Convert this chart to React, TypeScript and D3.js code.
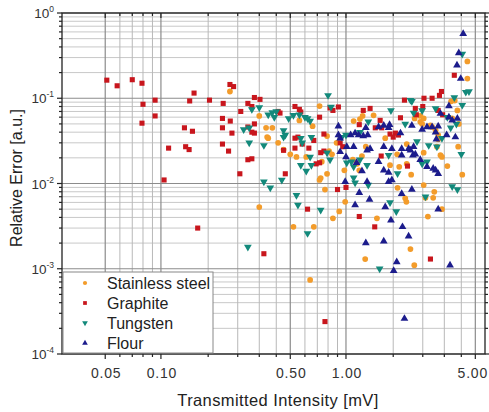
import { useEffect, useRef } from 'react';
import * as d3 from 'd3';

// [intensity mV, relative error]
const stainless: [number, number][] = [
  [0.236, 0.12], [0.34, 0.062], [0.37, 0.045], [0.375, 0.035], [0.38, 0.034], [0.40, 0.045],
  [0.43, 0.030], [0.46, 0.025], [0.50, 0.022], [0.56, 0.055], [0.54, 0.0205], [0.61, 0.0205],
  [0.66, 0.047], [0.72, 0.081], [0.74, 0.018], [0.73, 0.0116], [0.81, 0.024], [0.79, 0.013],
  [0.34, 0.0053], [0.52, 0.0031], [0.67, 0.0031], [0.64, 0.00074], [0.85, 0.0039], [0.92, 0.0047],
  [0.99, 0.0061], [1.27, 0.0013], [1.47, 0.0039], [2.23, 0.0017], [2.34, 0.0011], [2.77, 0.0041],
  [3.3, 0.005], [2.09, 0.0067], [2.12, 0.0061], [0.77, 0.0085], [1.90, 0.0089], [2.63, 0.0096],
  [2.69, 0.0068], [2.96, 0.0068], [3.0, 0.008], [0.72, 0.011], [0.79, 0.036], [0.84, 0.022],
  [1.10, 0.054], [1.19, 0.057], [1.23, 0.062], [1.09, 0.019], [0.98, 0.0143], [1.22, 0.021],
  [1.73, 0.0164], [1.94, 0.0157], [1.63, 0.034], [1.89, 0.022], [2.25, 0.0127], [2.35, 0.058],
  [2.52, 0.062], [2.63, 0.058], [2.86, 0.048], [3.15, 0.033], [3.53, 0.016], [3.75, 0.058],
  [3.7, 0.092], [3.87, 0.094], [4.04, 0.027], [4.25, 0.0127], [3.24, 0.0215], [2.13, 0.029],
  [2.63, 0.023], [4.53, 0.27], [4.53, 0.17], [4.07, 0.050], [0.89, 0.030], [1.15, 0.017],
  [1.18, 0.0143], [1.28, 0.027], [1.41, 0.063], [2.13, 0.017], [2.52, 0.053], [2.58, 0.050],
  [2.92, 0.046], [3.05, 0.042], [3.1, 0.027], [3.3, 0.0205], [4.0, 0.072], [3.15, 0.037],
];

const graphite: [number, number][] = [
  [0.051, 0.163], [0.058, 0.14], [0.070, 0.165], [0.079, 0.15], [0.093, 0.095], [0.080, 0.085],
  [0.151, 0.115], [0.143, 0.093], [0.183, 0.095], [0.217, 0.087], [0.236, 0.145], [0.247, 0.137],
  [0.32, 0.102], [0.343, 0.097], [0.079, 0.051], [0.093, 0.062], [0.134, 0.045], [0.148, 0.041],
  [0.110, 0.026], [0.136, 0.027], [0.142, 0.025], [0.104, 0.011], [0.215, 0.058], [0.215, 0.045],
  [0.237, 0.054], [0.242, 0.039], [0.215, 0.029], [0.232, 0.024], [0.267, 0.013], [0.27, 0.070],
  [0.295, 0.087], [0.295, 0.019], [0.295, 0.046], [0.158, 0.003], [0.32, 0.039], [0.31, 0.0195],
  [0.43, 0.070], [0.44, 0.067], [0.53, 0.080], [0.56, 0.074], [0.57, 0.069], [0.72, 0.060],
  [0.53, 0.034], [0.55, 0.035], [0.53, 0.026], [0.58, 0.029], [0.63, 0.026], [0.67, 0.032],
  [0.76, 0.024], [0.69, 0.017], [0.47, 0.013], [0.36, 0.0015], [0.62, 0.005], [0.77, 0.00024],
  [0.90, 0.0085], [1.0, 0.009], [1.18, 0.0041], [1.43, 0.0031], [2.86, 0.0013], [0.82, 0.077],
  [0.85, 0.072], [0.91, 0.079], [1.24, 0.072], [1.35, 0.076], [1.18, 0.049], [1.53, 0.055],
  [1.97, 0.059], [1.44, 0.045], [1.56, 0.045], [1.73, 0.038], [1.85, 0.039], [1.92, 0.037],
  [1.80, 0.035], [0.76, 0.038], [0.93, 0.030], [0.96, 0.027], [0.73, 0.023], [1.55, 0.021],
  [2.15, 0.016], [2.07, 0.095], [2.37, 0.076], [2.64, 0.10], [2.92, 0.10], [3.2, 0.108],
  [3.28, 0.12], [2.4, 0.064], [3.33, 0.064], [0.31, 0.080], [0.31, 0.040], [0.32, 0.050],
  [0.72, 0.0175], [0.46, 0.0245], [3.85, 0.186], [2.6, 0.080], [3.15, 0.072],
];

const tungsten: [number, number][] = [
  [0.31, 0.074], [0.34, 0.078], [0.28, 0.043], [0.30, 0.045], [0.30, 0.030], [0.36, 0.028],
  [0.38, 0.064], [0.40, 0.068], [0.42, 0.070], [0.41, 0.060], [0.49, 0.058], [0.52, 0.063],
  [0.56, 0.064], [0.60, 0.060], [0.62, 0.058], [0.64, 0.054], [0.46, 0.042], [0.47, 0.037],
  [0.46, 0.035], [0.57, 0.034], [0.58, 0.030], [0.65, 0.035], [0.57, 0.0164], [0.61, 0.014],
  [0.65, 0.0164], [0.36, 0.0105], [0.45, 0.011], [0.39, 0.0089], [0.54, 0.0073], [0.55, 0.0056],
  [0.295, 0.0018], [0.62, 0.0026], [0.73, 0.0049], [1.52, 0.001], [1.73, 0.006], [1.87, 0.0047],
  [1.12, 0.0102], [1.32, 0.0096], [2.69, 0.007], [3.75, 0.0092], [4.0, 0.0085], [0.80, 0.108],
  [1.0, 0.037], [0.95, 0.035], [0.79, 0.023], [1.07, 0.018], [1.10, 0.0157], [1.19, 0.019],
  [1.30, 0.0164], [1.10, 0.0117], [1.75, 0.072], [2.09, 0.050], [2.42, 0.031], [2.8, 0.028],
  [3.1, 0.027], [2.58, 0.017], [2.74, 0.018], [2.27, 0.092], [3.05, 0.076], [3.68, 0.045],
  [3.95, 0.050], [4.25, 0.083], [4.2, 0.022], [4.44, 0.118], [4.62, 0.12], [3.3, 0.034],
  [1.70, 0.0215], [0.64, 0.0205], [0.83, 0.079], [0.82, 0.019], [1.01, 0.0175], [2.23, 0.095],
  [2.32, 0.067], [2.58, 0.072], [1.32, 0.053], [1.19, 0.040], [3.53, 0.060], [3.85, 0.102],
  [4.25, 0.33], [1.9, 0.0131],
];

const flour: [number, number][] = [
  [0.99, 0.0105], [1.18, 0.0078], [1.12, 0.0056], [1.34, 0.0065], [1.30, 0.0105], [1.70, 0.0105],
  [2.0, 0.0076], [2.27, 0.0085], [1.63, 0.0053], [1.75, 0.0037], [2.02, 0.0031], [2.18, 0.0024],
  [1.28, 0.0020], [1.6, 0.0021], [1.88, 0.0012], [1.81, 0.00095], [2.07, 0.00026], [3.65, 0.0011],
  [3.15, 0.005], [0.91, 0.047], [1.06, 0.037], [1.28, 0.045], [1.24, 0.036], [1.31, 0.037],
  [1.35, 0.0255], [1.10, 0.027], [1.0, 0.0205], [1.22, 0.014], [1.5, 0.018], [1.6, 0.027],
  [1.72, 0.049], [1.70, 0.045], [1.97, 0.039], [2.0, 0.0255], [2.23, 0.0245], [2.3, 0.0215],
  [2.52, 0.019], [2.58, 0.043], [2.74, 0.046], [2.92, 0.046], [3.08, 0.033], [3.05, 0.040],
  [3.6, 0.081], [4.0, 0.058], [3.9, 0.035], [2.74, 0.0157], [3.05, 0.0143], [1.70, 0.0135],
  [4.3, 0.57], [3.98, 0.244], [4.07, 0.34], [4.17, 0.17], [3.5, 0.037], [3.15, 0.047],
  [2.27, 0.048], [2.32, 0.027], [2.37, 0.022], [2.18, 0.0255], [1.77, 0.0255], [1.6, 0.048],
  [1.5, 0.046], [1.12, 0.039], [1.17, 0.037], [1.01, 0.027], [0.91, 0.037], [0.93, 0.034],
  [1.30, 0.0245], [1.14, 0.0175], [1.6, 0.0143], [1.77, 0.011], [2.0, 0.0215], [3.15, 0.013],
  [2.96, 0.015], [3.6, 0.060], [3.75, 0.055], [3.24, 0.066], [0.93, 0.0235],
];

const xMajorTicks = [0.05, 0.1, 0.5, 1, 5];
const xTickLabels = ['0.05', '0.10', '0.50', '1.00', '5.00'];
const xMinorTicks = [0.06, 0.07, 0.08, 0.09, 0.18, 0.26, 0.34, 0.42, 0.6, 0.7, 0.8, 0.9, 1.8, 2.6, 3.4, 4.2];
const yMajorExp = [0, -1, -2, -3, -4];

const seriesNames = ['Stainless steel', 'Graphite', 'Tungsten', 'Flour'];

export default function App() {
  const svgRef = useRef<SVGSVGElement>(null);

  useEffect(() => {
    if (!svgRef.current) return;
    const svg = d3.select(svgRef.current);
    svg.selectAll('*').remove();

    const width = 489;
    const height = 412;
    const margin = { top: 13, right: 4, bottom: 58, left: 62 };
    const font = 'Arial, "Liberation Sans", sans-serif';

    const x = d3.scaleLog().domain([0.0292, 5.64]).range([margin.left, width - margin.right]);
    const y = d3.scaleLog().domain([1e-4, 1]).range([height - margin.bottom, margin.top]);
    const [x0, x1] = x.range();
    const [y0, y1] = y.range();

    const yMinor: number[] = [];
    for (let e = -4; e < 0; e++) for (let m = 2; m <= 9; m++) yMinor.push(m * Math.pow(10, e));
    const yMajor = yMajorExp.map(e => Math.pow(10, e));

    svg.append('rect').attr('width', width).attr('height', height).attr('fill', '#fff');

    // grid
    const grid = svg.append('g');
    grid.selectAll('.hmin').data(yMinor).enter().append('line')
      .attr('x1', x0).attr('x2', x1).attr('y1', d => y(d)).attr('y2', d => y(d))
      .attr('stroke', '#c8c8c8').attr('stroke-width', 1);
    grid.selectAll('.vmin').data(xMinorTicks).enter().append('line')
      .attr('y1', y0).attr('y2', y1).attr('x1', d => x(d)).attr('x2', d => x(d))
      .attr('stroke', '#b8b8b8').attr('stroke-width', 1);
    grid.selectAll('.hmaj').data(yMajor).enter().append('line')
      .attr('x1', x0).attr('x2', x1).attr('y1', d => y(d)).attr('y2', d => y(d))
      .attr('stroke', '#8c8c8c').attr('stroke-width', 1.2);
    grid.selectAll('.vmaj').data(xMajorTicks).enter().append('line')
      .attr('y1', y0).attr('y2', y1).attr('x1', d => x(d)).attr('x2', d => x(d))
      .attr('stroke', '#8c8c8c').attr('stroke-width', 1.2);

    // points
    const colors = ['#f39c2b', '#c8161d', '#13897b', '#1c1c8c'];
    const symbols = [d3.symbolCircle, d3.symbolSquare, d3.symbolTriangle, d3.symbolTriangle];
    const sizes = [26, 26, 26, 26];
    const rotate = [0, 0, 180, 0];
    const allSeries = [stainless, graphite, tungsten, flour];

    allSeries.forEach((data, i) => {
      const path = d3.symbol().type(symbols[i]).size(sizes[i])();
      svg.append('g').selectAll('path').data(data).enter().append('path')
        .attr('d', path)
        .attr('transform', d => `translate(${x(d[0])},${y(d[1])}) rotate(${rotate[i]})`)
        .attr('fill', colors[i]);
    });

    // frame
    svg.append('rect')
      .attr('x', x0).attr('y', y1).attr('width', x1 - x0).attr('height', y0 - y1)
      .attr('fill', 'none').attr('stroke', '#222').attr('stroke-width', 1.3);

    // ticks
    const ticks = svg.append('g').attr('stroke', '#222').attr('stroke-width', 1.2);
    xMajorTicks.forEach(v => {
      ticks.append('line').attr('x1', x(v)).attr('x2', x(v)).attr('y1', y0).attr('y2', y0 + 5);
      ticks.append('line').attr('x1', x(v)).attr('x2', x(v)).attr('y1', y1).attr('y2', y1 + 5);
    });
    xMinorTicks.forEach(v => {
      ticks.append('line').attr('x1', x(v)).attr('x2', x(v)).attr('y1', y0).attr('y2', y0 + 3);
      ticks.append('line').attr('x1', x(v)).attr('x2', x(v)).attr('y1', y1).attr('y2', y1 + 3);
    });
    yMajor.forEach(v => {
      ticks.append('line').attr('x1', x0 - 5).attr('x2', x0).attr('y1', y(v)).attr('y2', y(v));
      ticks.append('line').attr('x1', x1).attr('x2', x1 + 4).attr('y1', y(v)).attr('y2', y(v));
    });
    yMinor.forEach(v => {
      ticks.append('line').attr('x1', x0 - 3).attr('x2', x0).attr('y1', y(v)).attr('y2', y(v));
      ticks.append('line').attr('x1', x1).attr('x2', x1 + 3).attr('y1', y(v)).attr('y2', y(v));
    });

    // x tick labels (last one kept inside the picture)
    const last = xMajorTicks.length - 1;
    svg.append('g').selectAll('text').data(xMajorTicks).enter().append('text')
      .attr('x', (d, i) => (i === last ? width - 1 : x(d) + 1)).attr('y', y0 + 24)
      .attr('text-anchor', (d, i) => (i === last ? 'end' : 'middle'))
      .attr('font-family', font).attr('font-size', 14)
      .attr('letter-spacing', 0.8)
      .attr('fill', '#333').text((d, i) => xTickLabels[i]);

    // y tick labels
    yMajorExp.forEach(e => {
      const t = svg.append('text')
        .attr('x', x0 - 8).attr('y', y(Math.pow(10, e)) + 5)
        .attr('text-anchor', 'end').attr('font-family', font).attr('font-size', 13.5).attr('fill', '#333');
      t.append('tspan').text('10');
      t.append('tspan').attr('dy', -6).attr('font-size', 8.5).text(String(e));
    });

    // axis titles
    svg.append('text')
      .attr('x', 278).attr('y', 406).attr('text-anchor', 'middle')
      .attr('font-family', font).attr('font-size', 16.5).attr('letter-spacing', 0.4).attr('fill', '#222')
      .text('Transmitted Intensity [mV]');
    svg.append('text')
      .attr('transform', 'translate(22, 178) rotate(-90)')
      .attr('text-anchor', 'middle')
      .attr('font-family', font).attr('font-size', 16).attr('fill', '#222')
      .text('Relative Error [a.u.]');

    // legend
    const legend = svg.append('g');
    legend.append('rect')
      .attr('x', x0 + 1).attr('y', 272).attr('width', 150).attr('height', y0 - 272 - 1)
      .attr('fill', '#fff').attr('stroke', '#888').attr('stroke-width', 1);
    seriesNames.forEach((name, i) => {
      const cy = 283 + i * 20;
      legend.append('path')
        .attr('d', d3.symbol().type(symbols[i]).size(14)())
        .attr('transform', `translate(85,${cy}) rotate(${rotate[i]})`)
        .attr('fill', colors[i]);
      legend.append('text')
        .attr('x', 107).attr('y', cy + 5.5)
        .attr('font-family', font).attr('font-size', 16).attr('fill', '#222')
        .text(name);
    });
  }, []);

  return (
    <svg
      ref={svgRef}
      width={489}
      height={412}
      style={{ position: 'absolute', left: 0, top: 0 }}
    />
  );
}
